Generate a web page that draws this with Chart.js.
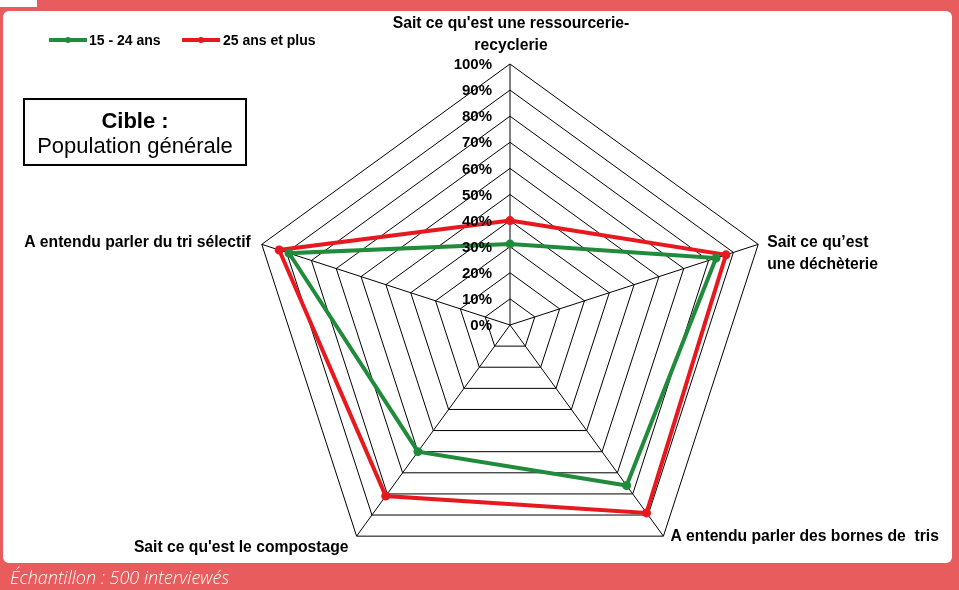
<!DOCTYPE html>
<html lang="fr">
<head>
<meta charset="utf-8">
<title>Notoriété - tri et recyclage</title>
<script src="https://cdn.jsdelivr.net/npm/chart.js@4"></script>
<style>
  html, body { margin: 0; padding: 0; }
  body {
    width: 959px; height: 590px; position: relative; overflow: hidden;
    background: #e95c5e;
    font-family: Arial, "Liberation Sans", sans-serif;
  }
  .corner { position: absolute; left: 0; top: 0; width: 37px; height: 7px; background: #fff; }
  .panel {
    position: absolute; left: 3px; top: 11px; width: 949px; height: 552px;
    background: #fff; border-radius: 6px;
  }
  #radar { position: absolute; left: 0; top: 0; }
  .legend { position: absolute; top: 31px; left: 49px; font-weight: bold; font-size: 14px; color: #000; }
  .legend span { position: absolute; white-space: nowrap; line-height: 18px; }
  .swatch { position: absolute; height: 4px; width: 38px; top: 7px; }
  .swatch::after {
    content: ""; position: absolute; left: 16px; top: -1px; width: 6px; height: 6px;
    border-radius: 50%; background: inherit;
  }
  .cible {
    position: absolute; left: 23px; top: 98px; width: 220px; height: 64px;
    border: 2px solid #000; text-align: center; color: #000;
  }
  .cible b { display: block; font-size: 22px; margin-top: 8px; line-height: 25px; }
  .cible div { font-size: 22px; line-height: 26px; }
  .sample {
    position: absolute; left: 10px; top: 565px; color: #fff;
    font-family: "Open Sans", sans-serif; font-style: italic; font-weight: 300; font-size: 18px;
  }
</style>
</head>
<body>
<div class="corner"></div>
<div class="panel"></div>
<canvas id="radar" width="959" height="590"></canvas>

<div class="legend">
  <span class="swatch" style="left:0;background:#1f8b3b"></span>
  <span style="left:40px">15 - 24 ans</span>
  <span class="swatch" style="left:133px;background:#e8181f"></span>
  <span style="left:174px">25 ans et plus</span>
</div>

<div class="cible"><b>Cible :</b><div>Population générale</div></div>

<div class="sample">Échantillon : 500 interviewés</div>

<script>
const categories = [
  ["Sait ce qu'est une ressourcerie-", "recyclerie"],
  ["Sait ce qu’est", "une déchèterie"],
  ["A entendu parler des bornes de  tris"],
  ["Sait ce qu'est le compostage"],
  ["A entendu parler du tri sélectif"]
];
const seriesNames = ["15 - 24 ans", "25 ans et plus"];
const jeunes = [31, 83, 76, 60, 89];
const adultes = [40, 87, 89, 81, 93];
const tickValues = [0, 10, 20, 30, 40, 50, 60, 70, 80, 90, 100];

const GREEN = '#1f8b3b';
const RED = '#e8181f';

// label placement around each vertex: dx, dy, text alignment
const labelOffsets = [
  { dx: 1, dy: -40, align: 'center' },
  { dx: 9, dy: -2, align: 'left' },
  { dx: 7, dy: 1, align: 'left' },
  { dx: -8, dy: 12, align: 'right' },
  { dx: -11, dy: -2, align: 'right' }
];

const radarLabels = {
  id: 'radarLabels',
  afterDraw(chart) {
    const scale = chart.scales.r
    const ctx = chart.ctx
    ctx.save()
    ctx.fillStyle = '#000'
    ctx.textBaseline = 'middle'

    // tick labels on the vertical axis
    ctx.font = 'bold 15px Arial, "Liberation Sans", sans-serif'
    ctx.textAlign = 'right'
    tickValues.forEach(v => {
      const y = scale.yCenter - scale.getDistanceFromCenterForValue(v)
      ctx.fillText(v + '%', scale.xCenter - 18, y + 1)
    })

    // category labels at the outer vertices
    ctx.font = 'bold 15.7px Arial, "Liberation Sans", sans-serif'
    categories.forEach((lines, i) => {
      const p = scale.getPointPosition(i, scale.drawingArea)
      const o = labelOffsets[i]
      ctx.textAlign = o.align
      lines.forEach((line, k) => {
        ctx.fillText(line, p.x + o.dx, p.y + o.dy + k * 22)
      })
    })
    ctx.restore()
  }
}

new Chart(document.getElementById('radar'), {
  type: 'radar',
  data: {
    labels: categories,
    datasets: [
      {
        label: seriesNames[0],
        data: jeunes,
        borderColor: GREEN,
        backgroundColor: GREEN,
        pointBackgroundColor: GREEN,
        borderWidth: 4,
        pointRadius: 2.5,
        fill: false
      },
      {
        label: seriesNames[1],
        data: adultes,
        borderColor: RED,
        backgroundColor: RED,
        pointBackgroundColor: RED,
        borderWidth: 4,
        pointRadius: 2.5,
        fill: false
      }
    ]
  },
  options: {
    responsive: false,
    animation: false,
    layout: { padding: { left: 249, top: 64, right: 188, bottom: 4 } },
    plugins: {
      legend: { display: false },
      tooltip: { enabled: false }
    },
    scales: {
      r: {
        min: 0,
        max: 100,
        beginAtZero: true,
        ticks: { display: false, stepSize: 10 },
        pointLabels: { display: false },
        grid: { color: '#000', lineWidth: 1 },
        angleLines: { color: '#000', lineWidth: 1 }
      }
    }
  },
  plugins: [radarLabels]
})
</script>
</body>
</html>
